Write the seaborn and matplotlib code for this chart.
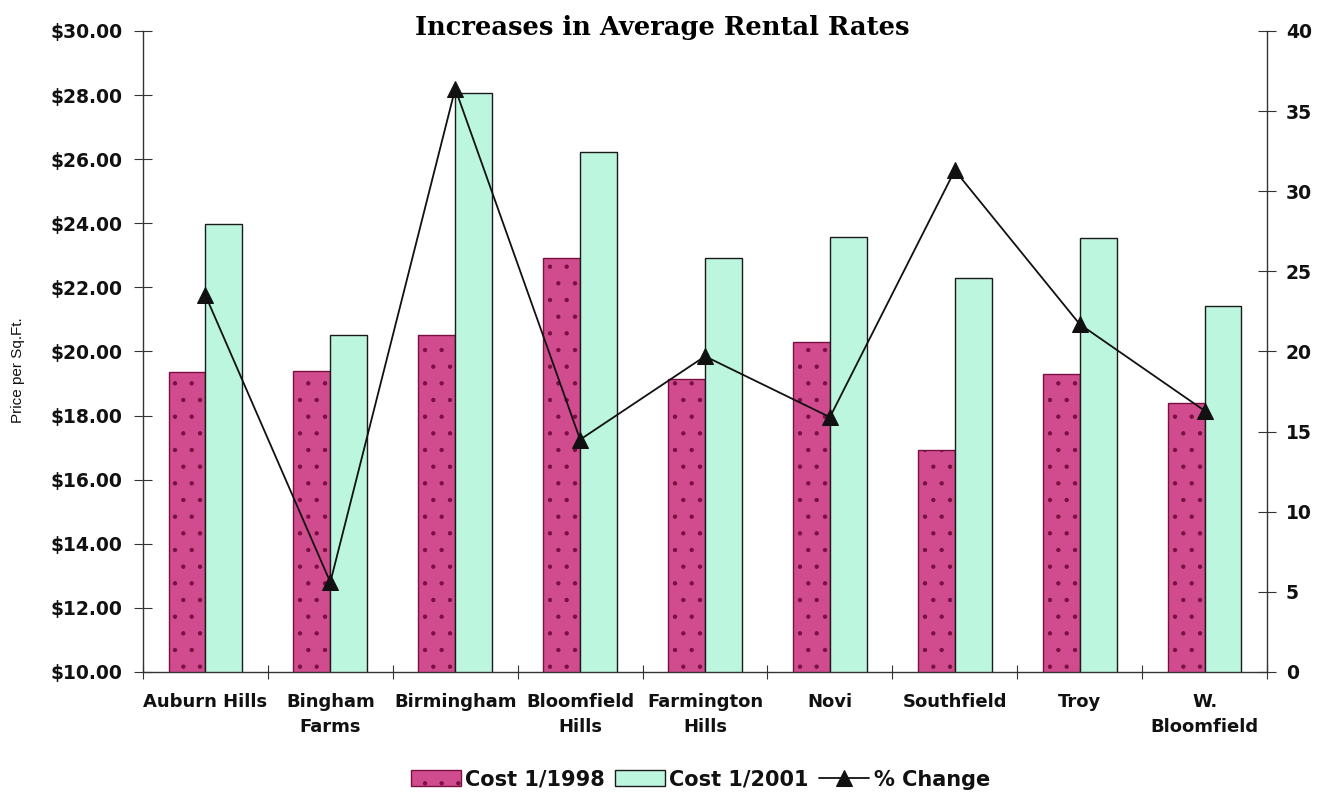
import numpy as np
import pandas as pd
import matplotlib
matplotlib.use("Agg")
import matplotlib.pyplot as plt
import matplotlib.ticker as mtick
import seaborn as sns

# data
cities = ["Auburn Hills", "Bingham\nFarms", "Birmingham", "Bloomfield\nHills",
          "Farmington\nHills", "Novi", "Southfield", "Troy", "W.\nBloomfield"]
cost_1998 = [19.37, 19.40, 20.51, 22.91, 19.14, 20.30, 16.93, 19.29, 18.40]
cost_2001 = [23.97, 20.51, 28.06, 26.22, 22.93, 23.56, 22.30, 23.53, 21.41]
pct_change = [23.5, 5.6, 36.4, 14.5, 19.7, 15.9, 31.3, 21.7, 16.3]
series = ["Cost 1/1998", "Cost 1/2001"]

MAROON = "#d04c8e"
MAROON_EDGE = "#7a1042"
GREEN = "#bdf6df"
AXIS = "#333333"
INK = "#111111"

sns.set_theme(style="ticks")
plt.rcParams["font.family"] = ["DejaVu Sans"]
plt.rcParams["hatch.linewidth"] = 0.7
plt.rcParams["text.color"] = INK
plt.rcParams["xtick.labelcolor"] = INK
plt.rcParams["ytick.labelcolor"] = INK

df = pd.DataFrame({
    "city": cities * 2,
    "cost": cost_1998 + cost_2001,
    "series": [series[0]] * len(cities) + [series[1]] * len(cities),
})

fig, ax = plt.subplots(figsize=(13.24, 7.93), dpi=100)
fig.subplots_adjust(left=0.108, right=0.957, top=0.961, bottom=0.1526)

sns.barplot(data=df, x="city", y="cost", hue="series", order=cities,
            palette={series[0]: MAROON, series[1]: GREEN}, width=0.59,
            saturation=1, edgecolor="#1a1a1a", linewidth=1.0, legend=False, ax=ax)
for bar in ax.containers[0]:
    bar.set_edgecolor(MAROON_EDGE)
    bar.set_hatch(".")

ax.set_xlim(-0.5, len(cities) - 0.5)
ax.set_ylim(10, 30)
ax.set_yticks(np.arange(10, 31, 2))
ax.yaxis.set_major_formatter(mtick.StrMethodFormatter("${x:.2f}"))
ax.set_xlabel("")
ax.set_ylabel("")
ax.set_xticks(range(len(cities)))
ax.set_xticklabels(cities, fontsize=13, fontweight="bold", linespacing=1.5)
ax.set_xticks(np.arange(-0.5, len(cities), 1), minor=True)
ax.tick_params(axis="x", which="major", length=0, pad=15)
ax.tick_params(axis="x", which="minor", direction="inout", length=10, width=0.8, color=AXIS)
ax.tick_params(axis="y", direction="inout", length=13, width=0.8, color=AXIS,
               labelsize=13.5, pad=8)
for lbl in ax.get_yticklabels():
    lbl.set_fontweight("bold")

# % change line on the secondary axis
ax2 = ax.twinx()
sns.lineplot(x=np.arange(len(cities)), y=pct_change, ax=ax2, color=INK,
             marker="^", markersize=11, markeredgecolor=INK, linewidth=1.3,
             label="% Change", legend=False)
ax2.set_ylim(0, 40)
ax2.set_yticks(np.arange(0, 41, 5))
ax2.yaxis.set_major_formatter(mtick.StrMethodFormatter("{x:.0f}"))
ax2.tick_params(axis="y", direction="inout", length=13, width=0.8, color=AXIS,
                labelsize=13.5, pad=7)
for lbl in ax2.get_yticklabels():
    lbl.set_fontweight("bold")
ax2.set_ylabel("")

for a in (ax, ax2):
    a.spines["top"].set_visible(False)
    for s in ("left", "right", "bottom"):
        a.spines[s].set_color(AXIS)
        a.spines[s].set_linewidth(1.0)
ax.spines["right"].set_visible(False)
ax2.spines["left"].set_visible(False)
ax2.spines["bottom"].set_visible(False)

fig.text(0.5, 1 - 28 / 793, "Increases in Average Rental Rates", ha="center", va="center",
         fontsize=18.5, fontweight="bold", family=["DejaVu Serif"], color="black")
fig.text(0.0136, 1 - 370 / 793, "Price per Sq.Ft.", rotation=90, ha="center", va="center",
         fontsize=11, family=["Liberation Sans", "DejaVu Sans"])

handles = [ax.containers[0][0], ax.containers[1][0], ax2.lines[0]]
fig.legend(handles, series + ["% Change"], loc="center", bbox_to_anchor=(0.529, 0.017),
           ncol=3, frameon=False, prop={"size": 15, "weight": "bold"},
           handlelength=2.4, handleheight=0.8, handletextpad=0.2, columnspacing=0.5)

fig.savefig("out.png", dpi=100)
